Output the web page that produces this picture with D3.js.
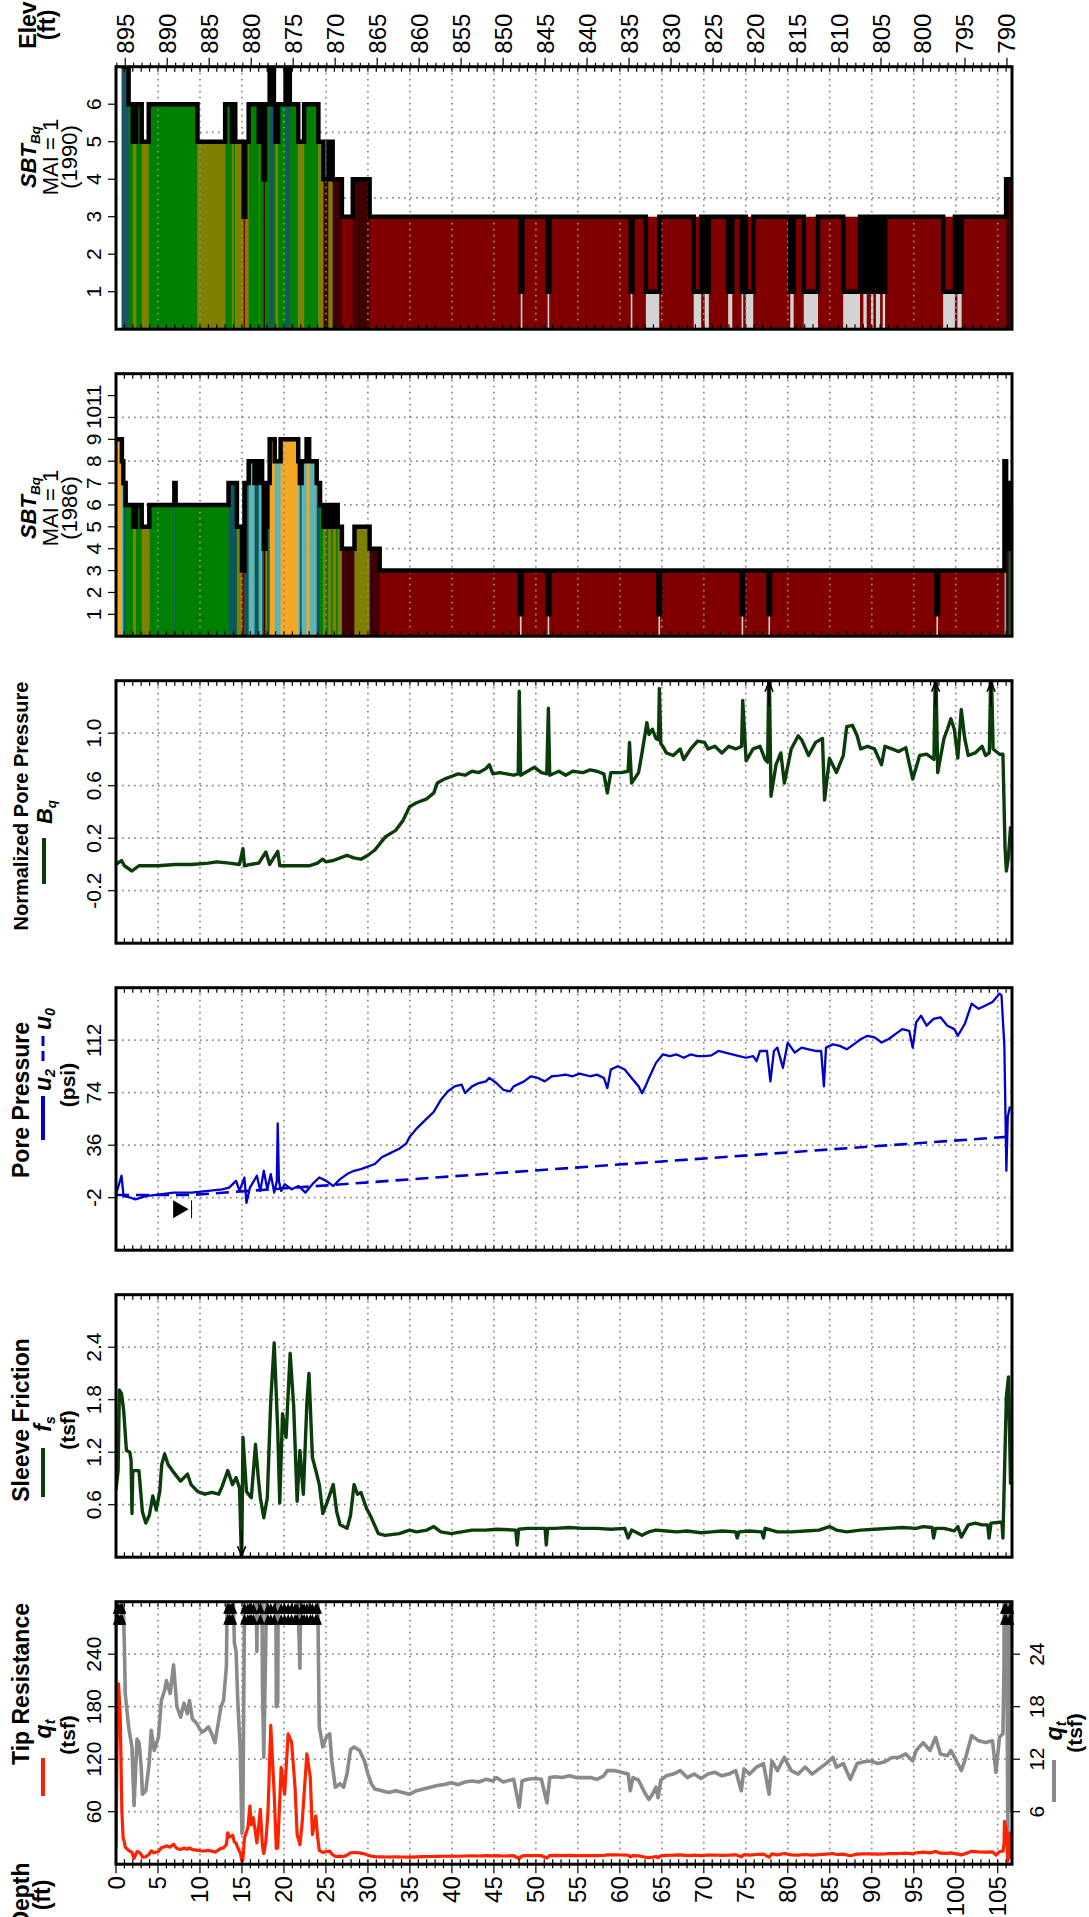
<!DOCTYPE html>
<html><head><meta charset="utf-8">
<script src="https://cdn.jsdelivr.net/npm/d3@7"></script>
<style>
body{margin:0;background:#fff}
svg{display:block}
text{font-family:"Liberation Sans",Arial,Helvetica,sans-serif;fill:#000}
</style>
</head><body>
<svg id="chart" width="1089" height="1917"></svg>
<script>
// ---------------- DATA ----------------
const depthTicks = d3.range(0, 106, 5);
const elevTicks = d3.range(895, 789, -5);
const groundElev = 896.1;
const depthMax = 106.7;

// SBT (Robertson 1990) classification segments [fromDepth, toDepth, zone]
const sbt1990 = [[0.66,1.5,7],[1.5,2.0,6],[2.0,2.4,5],[2.4,3.06,6],[3.06,3.9,5],[3.9,9.7,6],[9.7,13.0,5],
 [13.0,13.8,6],[13.8,14.0,5],[14.0,14.2,6],[14.2,15.2,5],[15.2,15.4,3],[15.4,15.8,5],[15.8,17.0,6],[17.0,17.1,5],
 [17.1,17.55,6],[17.55,17.75,4],[17.75,18.3,6],[18.3,18.8,7],[18.8,19.0,6],[19.0,19.3,5],[19.3,20.2,6],[20.2,20.7,7],
 [20.7,21.7,6],[21.7,22.4,5],[22.4,24.1,6],[24.1,24.7,5],[24.7,25.3,4],[25.3,25.8,5],[25.8,26.9,4],[26.9,28.2,3],
 [28.2,30.2,4],[30.2,48.2,3],[48.2,48.4,1],[48.4,51.4,3],[51.4,51.6,1],[51.6,61.3,3],[61.3,61.5,1],[61.5,63.1,3],
 [63.1,64.7,1],[64.7,68.8,3],[68.8,69.7,1],[69.7,70.1,3],[70.1,70.6,1],[70.6,72.9,3],[72.9,73.4,1],[73.4,74.5,3],
 [74.5,74.7,1],[74.7,75.0,3],[75.0,75.9,1],[75.9,80.3,3],[80.3,80.7,1],[80.7,81.9,3],[81.9,83.6,1],[83.6,86.6,3],
 [86.6,88.6,1],[88.6,89.0,3],[89.0,89.4,1],[89.4,89.9,3],[89.9,90.2,1],[90.2,90.5,3],[90.5,91.0,1],[91.0,91.3,3],
 [91.3,91.6,1],[91.6,98.5,3],[98.5,99.9,1],[99.9,100.2,3],[100.2,100.7,1],[100.7,106.0,3],[106.0,106.7,4]];
const sbt1990Base = [[30.2,106.0,3]];

// SBT (Robertson 1986) classification segments [fromDepth, toDepth, zone]
const sbt1986 = [[0,0.7,9],[0.7,0.87,8],[0.87,1.15,7],[1.15,2.06,6],[2.06,2.38,5],[2.38,3.06,6],[3.06,3.97,5],
 [3.97,6.95,6],[6.95,7.1,7],[7.1,13.4,6],[13.4,14.4,7],[14.4,15.0,5],[15.0,15.3,3],[15.3,15.8,7],[15.8,16.5,8],
 [16.5,17.0,7],[17.0,17.4,8],[17.4,17.6,7],[17.6,17.8,4],[17.8,18.0,5],[18.0,18.3,7],[18.3,18.9,9],[18.9,19.6,8],
 [19.6,21.7,9],[21.7,21.9,8],[21.9,22.1,7],[22.1,22.7,8],[22.7,23.0,9],[23.0,23.9,8],[23.9,24.3,7],[24.3,24.7,6],
 [24.7,24.9,5],[24.9,25.3,6],[25.3,25.6,5],[25.6,25.8,6],[25.8,26.2,5],[26.2,26.4,6],[26.4,26.9,5],[26.9,28.4,4],
 [28.4,30.2,5],[30.2,31.4,4],[31.4,48.1,3],[48.1,48.3,1],[48.3,51.4,3],[51.4,51.6,1],[51.6,64.6,3],[64.6,64.8,1],
 [64.8,74.5,3],[74.5,74.7,1],[74.7,77.7,3],[77.7,77.9,1],[77.9,97.7,3],[97.7,97.9,1],[97.9,105.8,3],[105.8,106.0,8],
 [106.0,106.3,4],[106.3,106.5,7],[106.5,106.7,6]];
const sbt1986Base = [[31.4,105.8,3]];

const zoneColors1990 = {1:"#d3d3d3",2:"#5c4033",3:"#800000",4:"#400000",5:"#808000",6:"#008000",7:"#1a5566"};
const zoneColors1986 = {1:"#d3d3d3",2:"#5c4033",3:"#800000",4:"#400000",5:"#808000",6:"#008000",7:"#0a5a5a",8:"#5fb3b3",9:"#f5a623"};

// Normalized pore pressure Bq [depth, value]
const bq = [[0,0.0],[0.66,0.03],[1.0,-0.01],[1.9,-0.05],[2.73,-0.01],[5.0,-0.01],[7.0,0.0],[9.0,0.0],[11.0,0.01],
 [12.0,0.02],[13.5,0.01],[14.7,0.0],[15.12,0.12],[15.3,-0.01],[16.0,0.0],[17.0,0.01],[17.85,0.095],[18.3,0.0],
 [19.26,0.10],[19.5,-0.01],[21.0,-0.01],[23.0,-0.01],[24.0,0.01],[24.6,0.04],[25.0,0.02],[25.87,0.03],[26.7,0.05],
 [27.52,0.07],[28.3,0.05],[29.17,0.04],[30.0,0.07],[30.83,0.11],[32.07,0.21],[33.31,0.26],[34.13,0.33],[34.96,0.44],
 [35.79,0.47],[37.02,0.50],[37.85,0.545],[38.26,0.62],[39.09,0.65],[39.92,0.67],[40.74,0.69],[41.57,0.68],[42.4,0.71],
 [43.22,0.70],[44.05,0.73],[44.46,0.76],[44.88,0.69],[45.7,0.70],[46.53,0.69],[47.36,0.68],[47.9,0.69],[48.02,1.32],
 [48.18,0.68],[49.01,0.71],[49.83,0.74],[50.66,0.70],[51.3,0.69],[51.49,1.19],[51.65,0.68],[52.73,0.71],[53.55,0.68],
 [54.38,0.71],[55.62,0.70],[56.45,0.72],[57.27,0.71],[58.1,0.69],[58.51,0.545],[58.93,0.70],[60.17,0.70],[60.99,0.71],
 [61.15,0.93],[61.4,0.62],[62.23,0.70],[62.64,0.85],[63.22,1.08],[63.47,0.99],[63.88,1.03],[64.3,0.96],[64.6,0.95],
 [64.71,1.34],[64.88,0.92],[65.12,0.90],[65.54,0.85],[66.36,0.83],[67.19,0.88],[67.6,0.80],[68.43,0.88],[69.26,0.94],
 [70.08,0.93],[70.5,0.88],[71.32,0.90],[72.15,0.85],[72.98,0.90],[73.8,0.88],[74.5,0.90],[74.63,1.25],[75.04,0.79],
 [75.87,0.88],[76.69,0.90],[77.3,0.80],[77.6,0.78],[77.77,1.6],[78.0,0.52],[78.6,0.76],[79.17,0.85],[79.59,0.62],
 [80.41,0.88],[81.24,0.98],[81.65,0.95],[82.48,0.83],[83.31,0.93],[84.13,0.96],[84.38,0.49],[84.96,0.81],[85.79,0.70],
 [86.61,0.83],[87.02,1.05],[87.69,1.06],[88.26,0.98],[88.68,0.88],[89.5,0.90],[90.33,0.88],[91.16,0.76],[91.57,0.90],
 [92.4,0.88],[93.22,0.86],[94.05,0.89],[94.88,0.65],[95.7,0.83],[96.53,0.84],[97.4,0.80],[97.6,1.6],[97.85,0.70],
 [98.6,0.96],[99.01,1.03],[99.42,1.11],[99.83,1.03],[100.25,0.81],[100.66,1.18],[101.07,0.96],[101.49,0.83],[102.31,0.85],
 [103.14,0.90],[103.55,0.83],[104.0,0.85],[104.21,1.6],[104.45,0.88],[105.21,0.84],[105.62,0.84],[105.87,0.13],
 [106.03,-0.05],[106.28,0.06],[106.53,0.29]];

// Pore pressure u2 (psi) [depth, value]
const u2 = [[0,0.4],[0.66,13.9],[0.9,-0.8],[1.5,-1.5],[2.31,-3.2],[3.55,-0.8],[5.21,0.4],[6.86,1.7],[9.0,1.7],[10.99,2.9],
 [12.64,4.1],[13.47,5.3],[14.3,10.2],[14.71,2.9],[15.29,12.6],[15.54,-5.7],[15.95,5.3],[16.78,13.9],[17.19,2.9],
 [17.6,17.5],[18.02,4.1],[18.43,15.1],[18.84,1.7],[19.15,10],[19.26,51.7],[19.4,10],[19.67,2.9],[20.08,7.8],[20.91,4.1],
 [21.74,6.5],[22.56,1.7],[23.39,7.8],[24.21,12.6],[25.04,10.2],[25.87,6.5],[26.69,11.4],[27.52,15.1],[28.35,17.5],
 [29.17,18.7],[30.83,22.4],[31.65,27.3],[32.48,29.7],[33.72,33.4],[34.55,37.1],[34.96,41.9],[35.79,48.0],[36.61,52.9],
 [37.85,60.2],[38.68,68.8],[39.5,74.9],[40.33,78.6],[41.16,79.8],[41.57,73.7],[42.4,78.6],[43.22,81],[44.05,82.2],
 [44.46,84.7],[45.29,81],[46.12,76.1],[46.94,74.9],[47.36,78.6],[48.6,82.2],[49.42,85.9],[50.25,84.7],[51.07,82.2],
 [51.9,85.9],[52.73,86.4],[53.55,87.1],[54.38,85.9],[55.21,87.8],[56.45,85.9],[57.27,87.1],[58.1,84.7],[58.51,77.3],
 [58.93,90.8],[59.75,93.2],[60.58,90.8],[61.4,84.7],[62.23,78.6],[62.64,73.7],[63.06,78.6],[63.47,84.7],[64.3,95.6],
 [65.12,101.7],[65.95,100.5],[66.78,101.7],[67.6,99.3],[68.43,101.7],[69.26,100.5],[70.08,100.5],[70.91,101],
 [71.74,104.2],[72.56,103],[73.39,101.7],[74.21,100.5],[75.04,99.3],[75.87,100.5],[76.28,96.8],[76.69,104.2],
 [77.52,104.2],[77.93,82.2],[78.35,104.2],[78.76,106.6],[79.42,92],[80,110.3],[80.83,103],[81.65,106.6],[82.48,105.4],
 [83.31,104.2],[83.97,104.2],[84.3,78.6],[84.55,106.6],[85.37,109],[86.2,107.9],[87.02,105.4],[87.85,109],[88.68,112.7],
 [89.5,115.2],[90.33,114],[91.16,110.3],[91.98,112.7],[92.81,116.4],[93.64,120],[94.46,118.8],[94.88,106.6],[95.29,125],
 [95.87,129.8],[96.53,122.5],[97.36,127.4],[98.18,128.6],[99.01,122.5],[99.83,120],[100.25,115.2],[101.07,123.7],
 [101.9,138.4],[102.73,134.7],[103.55,137.1],[104.38,139.6],[105.21,145.7],[105.45,144.5],[105.79,107.9],[106.03,17.5],
 [106.2,56.6],[106.45,64]];
// Hydrostatic pore pressure u0 (psi) [depth, value]
const u0 = [[0,0],[9.0,0],[106.7,42.3]];
const waterTableDepth = 9.0;

// Sleeve friction fs (tsf) [depth, value]
const fs = [[0,0.77],[0.25,0.99],[0.4,1.91],[0.66,1.87],[0.91,1.68],[1.24,1.22],[1.65,1.2],[1.8,1.1],[1.9,0.5],[2.0,0.99],
 [2.73,0.99],[3.14,0.52],[3.55,0.39],[3.97,0.48],[4.38,0.70],[4.79,0.54],[5.21,0.75],[5.45,1.06],[5.79,1.18],[6.2,1.06],
 [6.86,0.97],[7.69,0.87],[8.1,0.91],[8.51,0.95],[8.93,0.83],[9.75,0.75],[10.58,0.72],[11.4,0.74],[12.23,0.72],[12.64,0.81],
 [13.31,0.99],[13.88,0.83],[14.3,0.91],[14.71,0.79],[14.96,-0.1],[15.12,1.37],[15.54,0.75],[16.12,0.68],[16.61,1.29],
 [16.94,0.91],[17.19,0.68],[17.6,0.45],[18.02,0.68],[18.43,1.79],[18.84,2.45],[19.26,1.45],[19.5,0.62],[19.83,1.64],
 [20.25,1.37],[20.74,2.33],[21.16,1.72],[21.57,0.64],[21.9,1.22],[22.31,0.72],[22.73,1.76],[22.98,2.1],[23.39,1.14],
 [23.8,0.99],[24.21,0.83],[24.63,0.50],[25.04,0.60],[25.87,0.83],[26.28,0.52],[26.69,0.37],[27.52,0.33],[27.93,0.48],
 [28.35,0.83],[28.76,0.72],[29.17,0.74],[29.83,0.56],[30.41,0.45],[31.24,0.27],[32.07,0.25],[33.72,0.27],[34.96,0.31],
 [35.79,0.29],[37.02,0.31],[37.85,0.35],[38.68,0.29],[39.92,0.27],[41.16,0.29],[42.4,0.31],[44.05,0.31],[45.29,0.32],
 [47.6,0.31],[47.77,0.14],[47.95,0.32],[49.01,0.33],[50.25,0.33],[51.1,0.33],[51.24,0.14],[51.4,0.33],[52.31,0.33],
 [53.97,0.34],[55.62,0.33],[57.27,0.33],[58.93,0.32],[60.58,0.33],[60.99,0.22],[61.4,0.31],[62.64,0.25],[63.47,0.29],
 [64.3,0.31],[65.54,0.30],[66.78,0.29],[68.02,0.30],[69.67,0.28],[70.91,0.29],[72.15,0.30],[73.8,0.29],[73.97,0.22],
 [74.2,0.29],[75.45,0.30],[76.9,0.29],[77.11,0.22],[77.3,0.33],[78.76,0.29],[80.41,0.29],[82.07,0.30],[83.72,0.31],
 [84.96,0.35],[85.79,0.31],[87.02,0.29],[88.68,0.31],[90.33,0.32],[91.98,0.33],[93.64,0.34],[95.29,0.33],[96.12,0.35],
 [97.2,0.34],[97.36,0.22],[97.6,0.33],[98.6,0.33],[99.83,0.30],[100.25,0.35],[100.66,0.23],[101.49,0.37],[102.31,0.39],
 [103.14,0.37],[103.8,0.37],[103.97,0.22],[104.2,0.39],[105.21,0.40],[105.5,0.40],[105.62,0.22],[105.87,1.22],
 [106.03,1.83],[106.28,2.06],[106.53,0.83]];

// Tip resistance qt (tsf) [depth, value]
const qt = [[0,18],[0.15,150],[0.3,206],[0.5,170],[0.7,60],[0.85,30],[1.0,25],[1.1,19.5],[1.5,15.7],[1.9,13.4],[2.15,6.7],
 [2.5,14.3],[2.75,13.9],[3.0,11.1],[3.15,8],[3.55,8.4],[3.95,11.5],[4.2,15.3],[4.55,13],[5.05,14.5],[5.4,18.7],[5.8,19.9],
 [6.0,21],[6.45,19.5],[6.85,22.8],[7.25,18],[7.7,16.8],[8.1,18.4],[8.5,17.2],[8.75,18.7],[9.1,16.6],[9.6,16.1],[10.2,15.1],
 [10.6,15.3],[11.0,15.7],[11.4,14.9],[11.8,13.9],[12.5,18],[12.8,18.7],[13.15,22.6],[13.3,35.8],[13.5,31],[13.7,32],
 [13.9,33],[14.1,25.3],[14.3,24.3],[14.5,18.7],[14.8,13],[15.0,3.5],[15.1,4.2],[15.3,30.1],[15.7,41.6],[15.95,66.5],
 [16.1,45],[16.36,53.1],[16.78,24.3],[17.19,62.7],[17.44,20.5],[17.6,12.2],[17.85,26.2],[18.1,60],[18.43,158.6],
 [18.84,80],[19.09,18],[19.26,18.5],[19.67,110.7],[20.08,80],[20.5,149],[20.91,139.4],[21.32,87.6],[21.57,33.9],
 [21.9,22.4],[22.15,45],[22.4,80],[22.73,126],[23.14,99.1],[23.39,33.9],[23.8,55],[24.0,32],[24.21,15.7],[24.63,13.4],
 [25.04,14.5],[25.45,14.9],[25.7,11.8],[26.12,8.8],[26.69,9.2],[27.11,8.8],[27.52,10.4],[27.93,13.1],[28.35,13.4],
 [29.01,13],[29.59,11.8],[30,10.3],[30.41,9.2],[30.83,8.6],[31.65,8.4],[32.48,8.2],[33.31,8.4],[34.13,8.2],[34.96,8.0],
 [35.79,8.4],[36.61,8.6],[37.44,8.8],[38.26,9.0],[39.09,9.1],[39.92,9.3],[40.74,9.1],[41.57,9.4],[42.4,9.5],[43.22,9.4],
 [44.05,9.7],[44.88,9.5],[45.29,9.9],[46.12,9.4],[47.36,9.7],[48.02,6.5],[48.35,9.5],[49.01,9.7],[49.83,9.8],[50.66,9.7],
 [51.32,7.0],[51.65,9.9],[52.31,10.0],[53.14,9.9],[53.97,10.1],[54.79,9.9],[55.62,9.9],[56.45,9.9],[57.27,9.7],[58.1,10.1],
 [58.51,10.7],[59.34,10.7],[60.17,10.5],[60.99,10.3],[61.24,8.4],[61.57,9.9],[62.23,9.6],[62.64,8.8],[63.06,8.0],
 [63.47,7.4],[63.88,8.0],[64.3,8.8],[64.55,7.6],[64.88,9.6],[65.54,10.1],[66.36,10.3],[67.19,10.7],[68.02,9.9],[68.84,10.3],
 [69.67,9.8],[70.5,10.3],[71.32,10.5],[72.15,10.1],[72.98,10.3],[73.8,10.7],[74.46,8.4],[74.79,10.9],[75.45,10.3],
 [76.28,11.1],[77.11,11.5],[77.77,8.0],[78.1,11.8],[78.76,10.7],[79.59,12.2],[80.41,10.7],[81.24,10.3],[82.07,11.1],
 [82.89,10.3],[83.72,10.9],[84.55,11.5],[85.37,12.2],[85.79,11.1],[86.61,11.5],[87.44,9.7],[88.26,11.5],[89.09,11.7],
 [89.92,11.8],[90.74,11.5],[91.57,11.7],[92.4,12.2],[93.22,12.2],[94.05,12.6],[94.88,11.8],[95.29,13.0],[96.12,13.9],
 [96.94,13.0],[97.6,14.5],[98.18,12.6],[99.01,12.4],[99.42,13.0],[100.25,11.5],[100.66,10.7],[101.07,11.8],[101.9,14.7],
 [102.73,14.1],[103.55,13.9],[104.38,14.1],[104.79,10.5],[105.21,14.5],[105.62,14.9],[105.75,23],[105.8,49],[106.0,41.6],
 [106.2,3.5],[106.45,35.8],[106.6,6]];

// Axis tick labels
const sbt1990Ticks = [1,2,3,4,5,6];
const sbt1986Ticks = [1,2,3,4,5,6,7,8,9,10,11];
const bqTicks = [-0.2,0.2,0.6,1.0];
const ppTicks = [-2,36,74,112];
const fsTicks = [0.6,1.2,1.8,2.4];
const qtTicks = [60,120,180,240];
const qtZoomTicks = [6,12,18,24];

// ---------------- LAYOUT ----------------
const X0 = 116, X1 = 1012;
const PANEL_TOPS = [66.7, 373.7, 680.7, 987.7, 1294.7, 1601.7];
const PH = 262.5;
const TICK_FS = 21, AXIS_FS = 24, TITLE_FS = 23;
const svg = d3.select("#chart");
const x = d3.scaleLinear().domain([0, depthMax]).range([X0, X1]);
const GRID = "#8c8c8c";

function makePanel(i, domain) {
  const top = PANEL_TOPS[i];
  const y = d3.scaleLinear().domain(domain).range([top + PH, top]);
  const id = "clip" + i;
  svg.append("clipPath").attr("id", id).append("rect")
    .attr("x", X0).attr("y", top).attr("width", X1 - X0).attr("height", PH);
  const g = svg.append("g");
  return {top, bottom: top + PH, y, g, clip: `url(#${id})`};
}
function hGrid(p, vals) {
  p.g.append("g").selectAll("line").data(vals).join("line")
    .attr("x1", X0).attr("x2", X1).attr("y1", d => p.y(d)).attr("y2", d => p.y(d))
    .attr("stroke", GRID).attr("stroke-width", 1.7).attr("stroke-dasharray", "1.7,4.3");
}
function vGrid(p) {
  p.g.append("g").selectAll("line").data(d3.range(5, 106, 5)).join("line")
    .attr("x1", d => x(d)).attr("x2", d => x(d)).attr("y1", p.top).attr("y2", p.bottom)
    .attr("stroke", GRID).attr("stroke-width", 1.7).attr("stroke-dasharray", "1.7,4.3");
}
function frame(p, ticks, fmt) {
  const g = p.g.append("g");
  const minor = d3.range(0, 107, 1);
  g.selectAll("line.tt").data(minor).join("line").attr("class", "tt")
    .attr("x1", d => x(d)).attr("x2", d => x(d)).attr("y1", p.top).attr("y2", p.top + 5)
    .attr("stroke", "#000").attr("stroke-width", 1.2);
  g.selectAll("line.tb").data(minor).join("line").attr("class", "tb")
    .attr("x1", d => x(d)).attr("x2", d => x(d)).attr("y1", p.bottom - 5).attr("y2", p.bottom)
    .attr("stroke", "#000").attr("stroke-width", 1.2);
  g.selectAll("line.yt").data(ticks).join("line").attr("class", "yt")
    .attr("x1", X0 - 8).attr("x2", X0).attr("y1", d => p.y(d)).attr("y2", d => p.y(d))
    .attr("stroke", "#000").attr("stroke-width", 1.2);
  g.selectAll("text.yl").data(ticks).join("text").attr("class", "yl")
    .attr("transform", d => `translate(101,${p.y(d)}) rotate(-90)`)
    .attr("text-anchor", "middle").attr("font-size", TICK_FS).text(fmt);
  g.append("rect").attr("x", X0).attr("y", p.top).attr("width", X1 - X0).attr("height", PH)
    .attr("fill", "none").attr("stroke", "#000").attr("stroke-width", 3);
}
// rotated multi-part text
function rtext(cx, cy, parts, size, anchor) {
  const t = svg.append("text").attr("transform", `translate(${cx},${cy}) rotate(-90)`)
    .attr("text-anchor", anchor || "middle").attr("dy", "0.35em").attr("font-size", size);
  parts.forEach(pt => {
    const s = t.append("tspan").text(pt.t);
    if (pt.b) s.attr("font-weight", "bold");
    if (pt.i) s.attr("font-style", "italic");
    if (pt.sub) s.attr("font-size", size * 0.62).attr("dy", size * 0.18);
  });
  return t;
}
function vline(xp, y1, y2, color, w, dash) {
  const l = svg.append("line").attr("x1", xp).attr("x2", xp).attr("y1", y1).attr("y2", y2)
    .attr("stroke", color).attr("stroke-width", w);
  if (dash) l.attr("stroke-dasharray", dash);
}

// ---------------- SBT panels ----------------
function sbtPanel(i, domain, data, base, colors, ticks, grid) {
  const p = makePanel(i, domain);
  hGrid(p, grid);
  const fill = p.g.append("g").attr("clip-path", p.clip);
  fill.selectAll("rect.base").data(base).join("rect").attr("class", "base")
    .attr("x", d => x(d[0])).attr("width", d => x(d[1]) - x(d[0]) + 0.4)
    .attr("y", d => p.y(d[2])).attr("height", d => p.y(0) - p.y(d[2]))
    .attr("fill", d => colors[d[2]]);
  fill.selectAll("rect.z").data(data).join("rect").attr("class", "z")
    .attr("x", d => x(d[0])).attr("width", d => x(d[1]) - x(d[0]) + 0.4)
    .attr("y", d => p.y(d[2])).attr("height", d => p.y(0) - p.y(d[2]))
    .attr("fill", d => colors[d[2]]);
  vGrid(p);
  const pts = data.flatMap(d => [[d[0], d[2]], [d[1], d[2]]]);
  p.g.append("path").attr("clip-path", p.clip).datum(pts)
    .attr("d", d3.line().x(d => x(d[0])).y(d => p.y(d[1])))
    .attr("fill", "none").attr("stroke", "#000").attr("stroke-width", 4.5).attr("stroke-linejoin", "miter");
  frame(p, ticks, d => d);
  return p;
}
sbtPanel(0, [0, 7], sbt1990, sbt1990Base, zoneColors1990, sbt1990Ticks, [1.75, 3.5, 5.25]);
sbtPanel(1, [0, 12], sbt1986, sbt1986Base, zoneColors1986, sbt1986Ticks, [2, 4, 6, 8, 10]);

// ---------------- Line panels ----------------
function linePanel(i, domain, ticks) {
  const p = makePanel(i, domain);
  hGrid(p, ticks);
  vGrid(p);
  p.plot = p.g.append("g").attr("clip-path", p.clip);
  return p;
}
function drawLine(p, data, color, w, dash, yScale) {
  const ys = yScale || p.y;
  const path = p.plot.append("path").datum(data)
    .attr("d", d3.line().x(d => x(d[0])).y(d => ys(d[1])))
    .attr("fill", "none").attr("stroke", color).attr("stroke-width", w).attr("stroke-linejoin", "round");
  if (dash) path.attr("stroke-dasharray", dash);
}
const fmt1 = d => d.toFixed(1);

// Bq
const p3 = linePanel(2, [-0.6, 1.4], bqTicks);
drawLine(p3, bq, "#0b3d0b", 3.4);
p3.g.append("g").selectAll("path").data(bq.filter(d => d[1] > 1.4)).join("path")
  .attr("d", d => `M${x(d[0])},${p3.top + 26}V${p3.top + 1}M${x(d[0]) - 4},${p3.top + 11}L${x(d[0])},${p3.top + 1}L${x(d[0]) + 4},${p3.top + 11}`)
  .attr("fill", "none").attr("stroke", "#000").attr("stroke-width", 1.6);
frame(p3, bqTicks, fmt1);

// Pore pressure
const p4 = linePanel(3, [-40, 150], ppTicks);
drawLine(p4, u0, "#0000cc", 2.6, "13,7");
drawLine(p4, u2, "#0000cc", 2.3);
{
  const yc = p4.y(-10.4);
  p4.g.append("path")
    .attr("d", `M${x(waterTableDepth - 2.2)},${yc - 9}L${x(waterTableDepth - 0.35)},${yc}L${x(waterTableDepth - 2.2)},${yc + 9}Z`)
    .attr("fill", "#000");
  p4.g.append("line").attr("x1", x(waterTableDepth)).attr("x2", x(waterTableDepth))
    .attr("y1", yc - 9).attr("y2", yc + 9).attr("stroke", "#000").attr("stroke-width", 1);
}
frame(p4, ppTicks, d => d);

// Sleeve friction
const p5 = linePanel(4, [0, 3], fsTicks);
drawLine(p5, fs, "#0b3d0b", 3.4);
p5.g.append("g").selectAll("path").data(fs.filter(d => d[1] < 0)).join("path")
  .attr("d", d => `M${x(d[0])},${p5.bottom - 26}V${p5.bottom - 1}M${x(d[0]) - 4},${p5.bottom - 11}L${x(d[0])},${p5.bottom - 1}L${x(d[0]) + 4},${p5.bottom - 11}`)
  .attr("fill", "none").attr("stroke", "#000").attr("stroke-width", 1.6);
frame(p5, fsTicks, fmt1);

// Tip resistance
const p6 = linePanel(5, [0, 300], qtTicks);
const yZoom = d3.scaleLinear().domain([0, 30]).range([p6.bottom, p6.top]);
drawLine(p6, qt, "#8a8a8a", 3.6, null, yZoom);
drawLine(p6, qt, "#ff2200", 3.2);
p6.g.append("g").selectAll("path").data(qt.filter(d => d[1] > 30)).join("path")
  .attr("d", d => {
    const xx = x(d[0]), t = p6.top;
    return `M${xx},${t + 1}L${xx - 4.5},${t + 12}L${xx + 4.5},${t + 12}Z M${xx},${t + 12}L${xx - 4.5},${t + 23}L${xx + 4.5},${t + 23}Z`;
  }).attr("fill", "#000");
frame(p6, qtTicks, d => d);
// right axis
p6.g.selectAll("line.rt").data(qtZoomTicks).join("line").attr("class", "rt")
  .attr("x1", X1).attr("x2", X1 + 8).attr("y1", d => yZoom(d)).attr("y2", d => yZoom(d))
  .attr("stroke", "#000").attr("stroke-width", 1.2);
p6.g.selectAll("text.rl").data(qtZoomTicks).join("text").attr("class", "rl")
  .attr("transform", d => `translate(1044,${yZoom(d)}) rotate(-90)`)
  .attr("text-anchor", "middle").attr("font-size", TICK_FS).text(d => d);

// ---------------- Depth / elevation axes ----------------
const topY = PANEL_TOPS[0], botY = PANEL_TOPS[5] + PH;
svg.append("g").selectAll("line").data(d3.range(790, 897, 1)).join("line")
  .attr("x1", e => x(groundElev - e)).attr("x2", e => x(groundElev - e))
  .attr("y1", e => topY - (e % 5 === 0 ? 9 : 4)).attr("y2", topY)
  .attr("stroke", "#000").attr("stroke-width", 1.2);
svg.append("g").selectAll("text").data(elevTicks).join("text")
  .attr("transform", e => `translate(${x(groundElev - e) + 8.5},${topY - 13}) rotate(-90)`)
  .attr("text-anchor", "start").attr("font-size", AXIS_FS).text(e => e);
svg.append("g").selectAll("line").data(d3.range(0, 107, 1)).join("line")
  .attr("x1", d => x(d)).attr("x2", d => x(d))
  .attr("y1", botY).attr("y2", d => botY + (d % 5 === 0 ? 9 : 4))
  .attr("stroke", "#000").attr("stroke-width", 1.2);
svg.append("g").selectAll("text").data(depthTicks).join("text")
  .attr("transform", d => `translate(${x(d) + 8.5},${botY + 12}) rotate(-90)`)
  .attr("text-anchor", "end").attr("font-size", AXIS_FS).text(d => d);

// ---------------- Titles ----------------
rtext(28, 25, [{t: "Elev", b: 1}], TITLE_FS);
rtext(47, 25, [{t: "(ft)", b: 1}], TITLE_FS);
rtext(21, 1895, [{t: "Depth", b: 1}], TITLE_FS);
rtext(42, 1895, [{t: "(ft)", b: 1}], TITLE_FS);

[[157, "(1990)"], [508, "(1986)"]].forEach(([cy, yr]) => {
  rtext(28, cy, [{t: "SBT", b: 1, i: 1}, {t: "Bq", b: 1, i: 1, sub: 1}], 22);
  rtext(50, cy, [{t: "MAI = 1"}], 22);
  rtext(69, cy, [{t: yr}], 22);
});

rtext(21, 806, [{t: "Normalized Pore Pressure", b: 1}], 20);
vline(44, 838, 884, "#0b3d0b", 4);
rtext(44, 812, [{t: "B", b: 1, i: 1}, {t: "q", b: 1, i: 1, sub: 1}], 22);

rtext(21, 1100, [{t: "Pore Pressure", b: 1}], TITLE_FS);
vline(43, 1096, 1140, "#0000cc", 4);
rtext(43, 1080, [{t: "u", b: 1, i: 1}, {t: "2", b: 1, i: 1, sub: 1}], TITLE_FS);
vline(43, 1036, 1066, "#0000cc", 3, "10,5");
rtext(43, 1019, [{t: "u", b: 1, i: 1}, {t: "0", b: 1, i: 1, sub: 1}], TITLE_FS);
rtext(68, 1085, [{t: "(psi)", b: 1}], 21);

rtext(21, 1420, [{t: "Sleeve Friction", b: 1}], TITLE_FS);
vline(43, 1448, 1497, "#0b3d0b", 4);
rtext(43, 1424, [{t: "f", b: 1, i: 1}, {t: "s", b: 1, i: 1, sub: 1}], TITLE_FS);
rtext(68, 1430, [{t: "(tsf)", b: 1}], 21);

rtext(21, 1684, [{t: "Tip Resistance", b: 1}], TITLE_FS);
vline(43, 1758, 1796, "#ff2200", 4);
rtext(43, 1729, [{t: "q", b: 1, i: 1}, {t: "t", b: 1, i: 1, sub: 1}], TITLE_FS);
rtext(68, 1735, [{t: "(tsf)", b: 1}], 21);

vline(1054, 1760, 1802, "#8a8a8a", 4);
rtext(1054, 1731, [{t: "q", b: 1, i: 1}, {t: "t", b: 1, i: 1, sub: 1}], TITLE_FS);
rtext(1075, 1733, [{t: "(tsf)", b: 1}], 21);
</script>
</body></html>
